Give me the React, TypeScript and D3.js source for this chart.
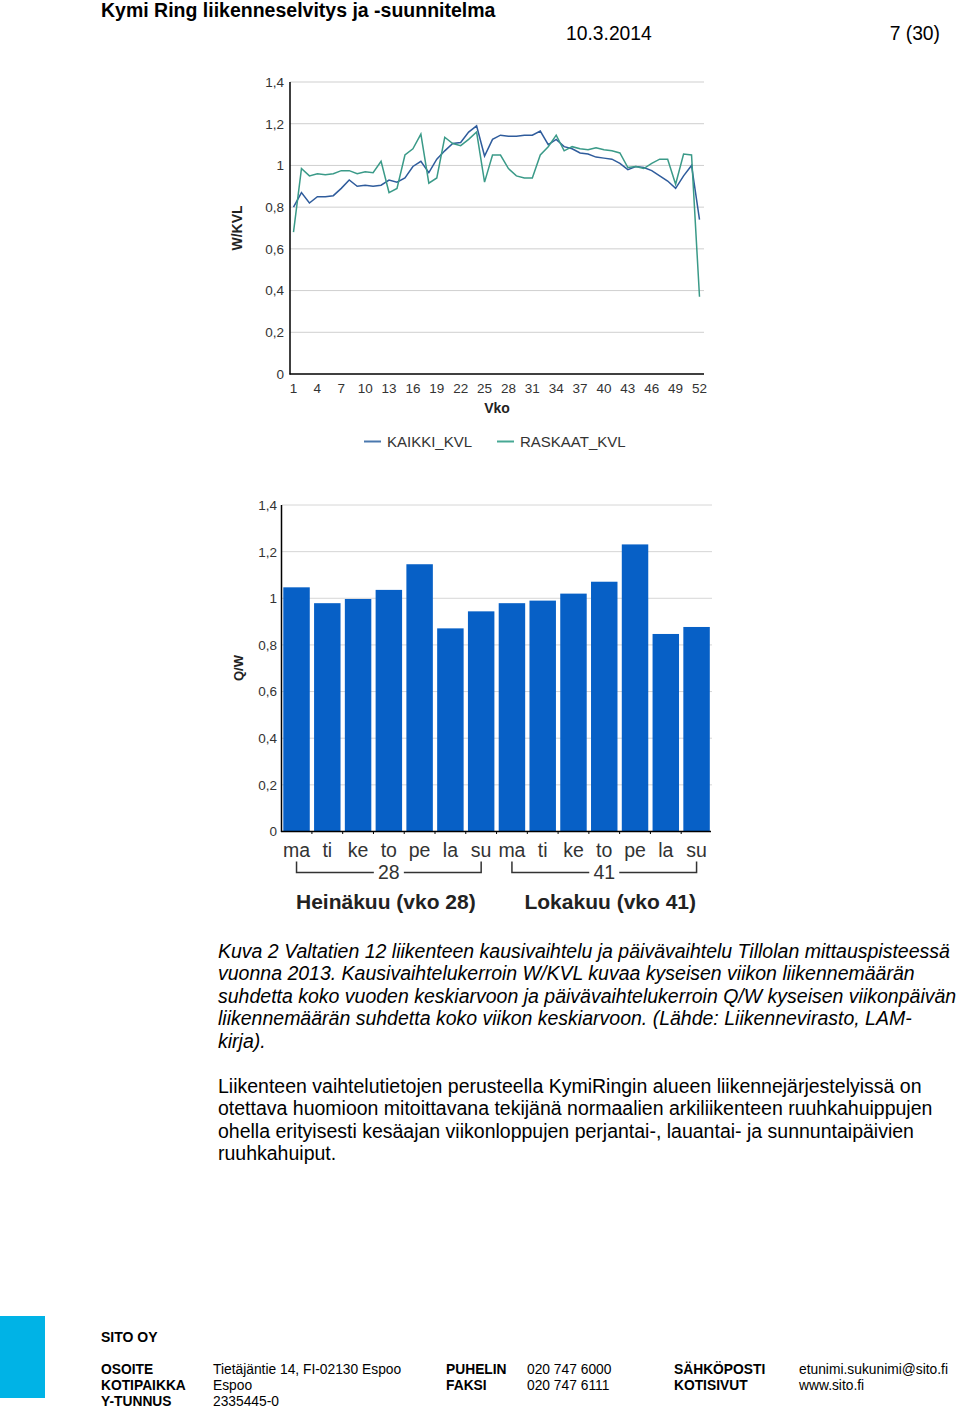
import React from "react";
import * as d3 from "d3";

const weeks = d3.range(1, 53);
const weekTicks = d3.range(1, 53, 3);
const kaikki = [0.80,0.87,0.82,0.85,0.85,0.855,0.89,0.93,0.90,0.905,0.90,0.905,0.93,0.92,0.94,0.995,1.02,0.965,1.03,1.07,1.105,1.11,1.16,1.19,1.045,1.125,1.145,1.14,1.14,1.145,1.145,1.165,1.10,1.125,1.09,1.08,1.06,1.055,1.04,1.035,1.03,1.01,0.98,0.995,0.99,0.975,0.95,0.925,0.89,0.95,1.00,0.74];
const raskaat = [0.68,0.985,0.95,0.96,0.955,0.96,0.975,0.975,0.96,0.97,0.965,1.02,0.87,0.89,1.05,1.08,1.15,0.915,0.94,1.135,1.105,1.095,1.125,1.16,0.92,1.05,1.05,0.985,0.95,0.94,0.94,1.05,1.09,1.145,1.07,1.09,1.08,1.075,1.085,1.075,1.07,1.06,0.99,0.995,0.985,1.01,1.03,1.03,0.91,1.055,1.05,0.37];
const yTicks = [0, 0.2, 0.4, 0.6, 0.8, 1, 1.2, 1.4];

const days = ["ma","ti","ke","to","pe","la","su","ma","ti","ke","to","pe","la","su"];
const qw = [1.047,0.979,0.997,1.036,1.146,0.871,0.944,0.979,0.99,1.02,1.071,1.231,0.847,0.877];
const groups = [
  { week: "28", title: "Heinäkuu (vko 28)", from: 0, to: 6 },
  { week: "41", title: "Lokakuu (vko 41)", from: 7, to: 13 },
];

const captionLines = [
  "Kuva 2 Valtatien 12 liikenteen kausivaihtelu ja päivävaihtelu Tillolan mittauspisteessä",
  "vuonna 2013. Kausivaihtelukerroin W/KVL kuvaa kyseisen viikon liikennemäärän",
  "suhdetta koko vuoden keskiarvoon ja päivävaihtelukerroin Q/W kyseisen viikonpäivän",
  "liikennemäärän suhdetta koko viikon keskiarvoon. (Lähde: Liikennevirasto, LAM-",
  "kirja).",
];
const bodyLines = [
  "Liikenteen vaihtelutietojen perusteella KymiRingin alueen liikennejärjestelyissä on",
  "otettava huomioon mitoittavana tekijänä normaalien arkiliikenteen ruuhkahuippujen",
  "ohella erityisesti kesäajan viikonloppujen perjantai-, lauantai- ja sunnuntaipäivien",
  "ruuhkahuiput.",
];
const footerRows = [
  ["OSOITE", "Tietäjäntie 14, FI-02130 Espoo", "PUHELIN", "020 747 6000", "SÄHKÖPOSTI", "etunimi.sukunimi@sito.fi"],
  ["KOTIPAIKKA", "Espoo", "FAKSI", "020 747 6111", "KOTISIVUT", "www.sito.fi"],
  ["Y-TUNNUS", "2335445-0", "", "", "", ""],
];

const FONT = "'Liberation Sans', Arial, sans-serif";
const fmt = (v: number) => String(+v.toFixed(1)).replace(".", ",");

export default function App() {
  // line chart
  const lx = d3.scaleLinear().domain([1, 52]).range([293.5, 699.5]);
  const ly = d3.scaleLinear().domain([0, 1.4]).range([374, 82]);
  const line = d3.line<number>().x((_, i) => lx(weeks[i])).y((d) => ly(d));

  // bar chart
  const bx = d3.scaleBand<number>().domain(d3.range(days.length)).range([283.3, 709.8]).paddingInner(0.14);
  const by = d3.scaleLinear().domain([0, 1.4]).range([831.5, 505]);

  const blue = "#2f5c9c";
  const teal = "#3a9a88";
  const barColor = "#0760c6";
  const titleDx = [-3, 6];

  return (
    <svg width={960} height={1408} style={{ position: "absolute", left: 0, top: 0, background: "#fff" }} fontFamily={FONT}>
      {/* header */}
      <text x={101} y={17} fontSize={19.5} fontWeight="bold">Kymi Ring liikenneselvitys ja -suunnitelma</text>
      <text x={566} y={40} fontSize={19.3}>10.3.2014</text>
      <text x={940} y={40} fontSize={19.3} textAnchor="end">7 (30)</text>

      {/* line chart */}
      {yTicks.filter((t) => t > 0).map((t) => (
        <line key={"lg" + t} x1={290} x2={704} y1={ly(t)} y2={ly(t)} stroke="#cfcfcf" strokeWidth={1} />
      ))}
      {yTicks.map((t) => (
        <text key={"lyt" + t} x={284} y={ly(t)} dy="0.36em" textAnchor="end" fontSize={13.5} fill="#333">{fmt(t)}</text>
      ))}
      {weekTicks.map((w) => (
        <text key={"lxt" + w} x={lx(w)} y={393} textAnchor="middle" fontSize={13.5} fill="#333">{w}</text>
      ))}
      <line x1={290} x2={290} y1={82} y2={374.5} stroke="#000" strokeWidth={1.5} />
      <line x1={289.5} x2={704} y1={374} y2={374} stroke="#000" strokeWidth={1.5} />
      <path d={line(kaikki) || ""} fill="none" stroke={blue} strokeWidth={1.5} />
      <path d={line(raskaat) || ""} fill="none" stroke={teal} strokeWidth={1.5} />
      <text transform="translate(242,228) rotate(-90)" textAnchor="middle" fontSize={14} fontWeight="bold" fill="#222">W/KVL</text>
      <text x={497} y={413} textAnchor="middle" fontSize={14} fontWeight="bold" fill="#222">Vko</text>
      {/* legend */}
      <line x1={364} x2={381} y1={441.5} y2={441.5} stroke="#4a78ae" strokeWidth={2} />
      <text x={387} y={447} fontSize={15} fill="#333">KAIKKI_KVL</text>
      <line x1={497} x2={514} y1={441.5} y2={441.5} stroke="#47a894" strokeWidth={2} />
      <text x={520} y={447} fontSize={15} fill="#333">RASKAAT_KVL</text>

      {/* bar chart */}
      {yTicks.filter((t) => t > 0).map((t) => (
        <line key={"bg" + t} x1={282} x2={712} y1={by(t)} y2={by(t)} stroke="#d6d6d6" strokeWidth={1} />
      ))}
      {yTicks.map((t) => (
        <text key={"byt" + t} x={277} y={by(t)} dy="0.36em" textAnchor="end" fontSize={13.5} fill="#333">{fmt(t)}</text>
      ))}
      {qw.map((v, i) => (
        <rect key={"bar" + i} x={bx(i)} y={by(v)} width={bx.bandwidth()} height={by(0) - by(v)} fill={barColor} />
      ))}
      {d3.range(1, days.length).map((i) => {
        const xx = (bx(i) as number) - (bx.step() - bx.bandwidth()) / 2;
        return <line key={"bt" + i} x1={xx} x2={xx} y1={831} y2={834} stroke="#000" strokeWidth={1} />;
      })}
      <line x1={281.5} x2={281.5} y1={505} y2={832} stroke="#000" strokeWidth={1.5} />
      <line x1={281} x2={711} y1={831.5} y2={831.5} stroke="#000" strokeWidth={1.5} />
      <text transform="translate(243,668) rotate(-90)" textAnchor="middle" fontSize={13} fontWeight="bold" fill="#222">Q/W</text>
      {days.map((d, i) => (
        <text key={"day" + i} x={(bx(i) as number) + bx.bandwidth() / 2} y={857} textAnchor="middle" fontSize={19.5} fill="#333">{d}</text>
      ))}
      {groups.map((g, gi) => {
        const x1 = (bx(g.from) as number) + bx.bandwidth() / 2;
        const x2 = (bx(g.to) as number) + bx.bandwidth() / 2;
        const cx = (x1 + x2) / 2;
        return (
          <g key={"grp" + g.week}>
            <path d={`M${x1},861.5V872.5H${cx - 15}M${cx + 15},872.5H${x2}V861.5`} fill="none" stroke="#333" strokeWidth={1.5} />
            <text x={cx} y={879} textAnchor="middle" fontSize={19.5} fill="#333">{g.week}</text>
            <text x={cx + titleDx[gi]} y={908.5} textAnchor="middle" fontSize={21} fontWeight="bold" fill="#222">{g.title}</text>
          </g>
        );
      })}

      {/* caption */}
      {captionLines.map((l, i) => (
        <text key={"cap" + i} x={218} y={957.5 + i * 22.6} fontSize={19.5} fontStyle="italic">{l}</text>
      ))}
      {bodyLines.map((l, i) => (
        <text key={"body" + i} x={218} y={1092.5 + i * 22.6} fontSize={19.5}>{l}</text>
      ))}

      {/* footer */}
      <rect x={0} y={1316} width={45} height={82} fill="#00b3e6" />
      <text x={101} y={1342} fontSize={14} fontWeight="bold">SITO OY</text>
      {footerRows.map((r, i) => {
        const y = 1374 + i * 15.8;
        const xs = [101, 213, 446, 527, 674, 799];
        return (
          <g key={"fr" + i}>
            {r.map((t, j) => (
              <text key={j} x={xs[j]} y={y} fontSize={13.8} fontWeight={j % 2 === 0 ? "bold" : "normal"}>{t}</text>
            ))}
          </g>
        );
      })}
    </svg>
  );
}
